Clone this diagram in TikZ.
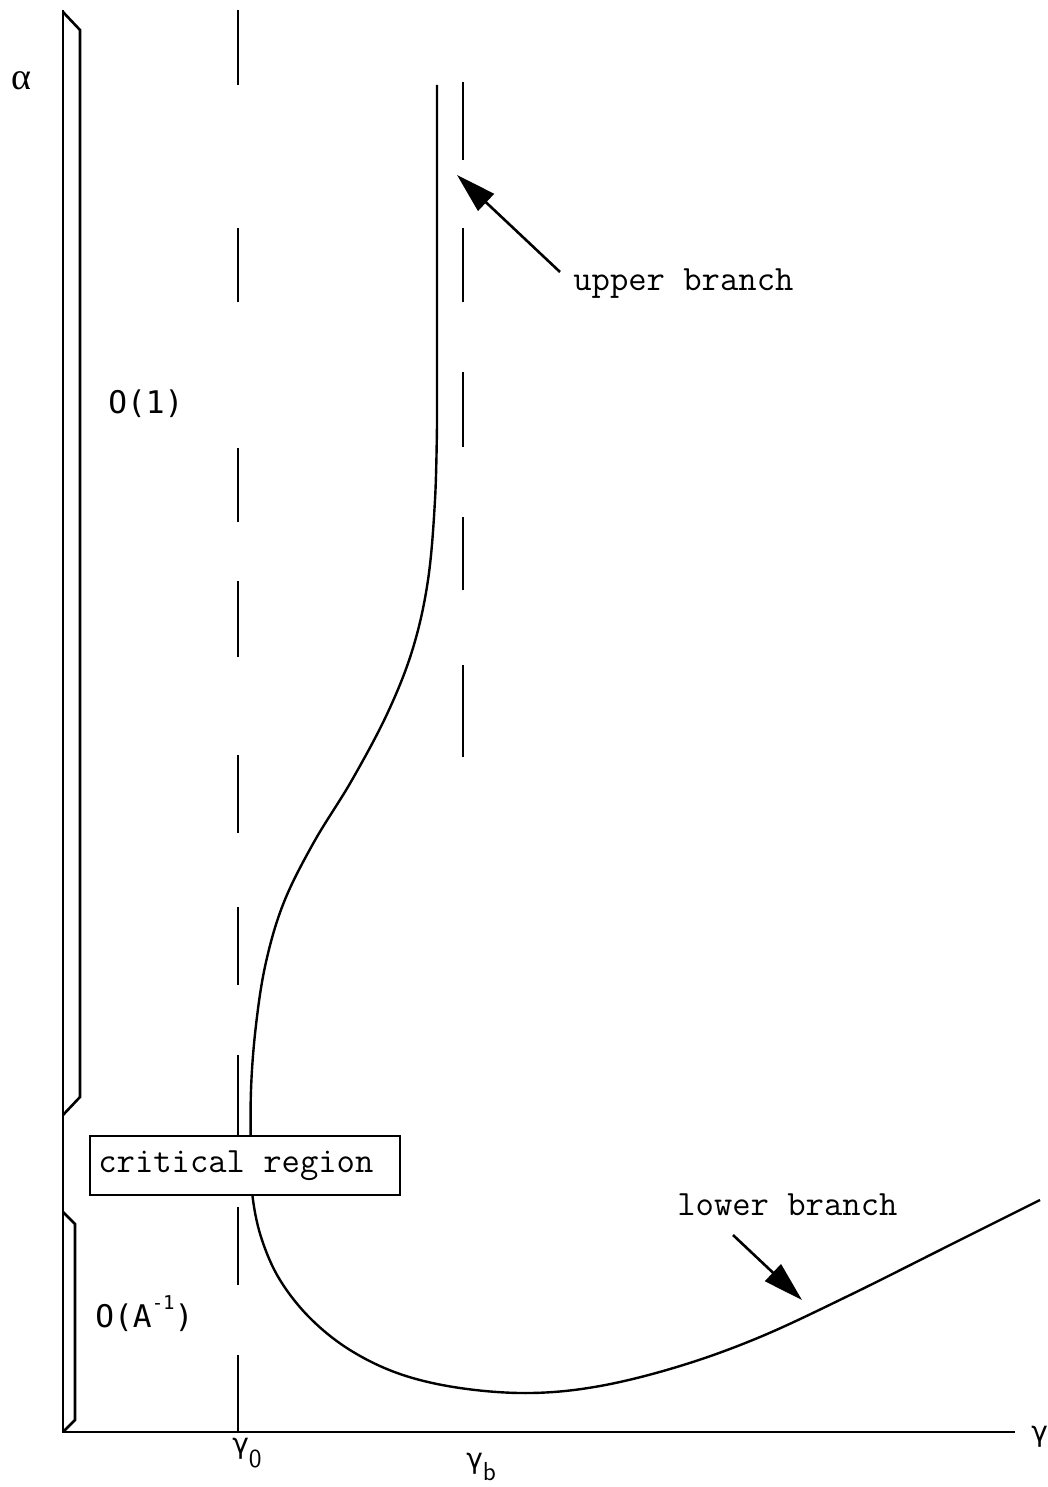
\documentclass[tikz,border=0pt]{standalone}
\usepackage{fontspec}
\newfontfamily\sansmono{DejaVu Sans Mono}
\newfontfamily\grk{DejaVu Sans}
\newfontfamily\grkserif{Liberation Serif}
\usetikzlibrary{arrows.meta}
\begin{document}
\begin{tikzpicture}[x=0.5pt,y=-0.5pt,
  axisline/.style={line width=1.3pt,line join=miter},
  guide/.style={line width=1.3pt},
  branch/.style={line width=1.2pt,line join=round},
  pointer/.style={line width=1.3pt,-{Triangle[length=20pt,width=11.5pt]}},
  ttlbl/.style={font=\ttfamily\fontsize{17.8}{20}\selectfont,inner sep=0pt},
  orderlbl/.style={font=\sansmono\fontsize{15.6}{18}\selectfont,inner sep=0pt},
  greeklbl/.style={font=\grk\fontsize{14}{16}\selectfont,inner sep=0pt},
  critbox/.style={draw,fill=white,line width=1.3pt,inner sep=0pt,
    minimum width=155pt,minimum height=29.5pt}]
\useasboundingbox (0,0) rectangle (1048,1487);

% axes and order-of-magnitude brackets
\coordinate (top) at (63,10);
\coordinate (origin) at (63,1432);
\coordinate (xend) at (1015,1432);
\draw[axisline] (top) -- (origin) -- (xend);
\draw[axisline] (63,12) -- (80,30) -- (80,1097) -- (63,1115);
\draw[axisline] (63,1212) -- (75,1224) -- (75,1420) -- (63,1432);

% dashed verticals at gamma_0 and gamma_b
\foreach \a/\b in {10/85,228/302,448/522,581/657,755/833,907/985,1055/1140,1207/1285,1355/1432}
  \draw[guide] (238,\a) -- (238,\b);
\foreach \a/\b in {82/160,228/302,372/447,517/590,665/757}
  \draw[guide] (463,\a) -- (463,\b);

% the solution branch
\draw[branch] (437,85) -- plot[smooth,tension=0.6] coordinates {
  (437,424) (435,500) (428,580) (413,648) (388,712) (352,780)
  (314,842) (284,902) (266,962) (256,1025) (251,1090) (251,1160)
  (253,1200) (262,1240) (280,1280) (310,1318) (350,1350) (400,1374)
  (460,1388) (530,1393) (600,1386) (680,1366) (760,1337) (850,1295)
  (950,1245) (1040,1200)};

% labels
\node[critbox] (crit) at (245,1165.5) {};
\node[ttlbl,anchor=base west] (critlbl) at (98,1172) {critical region};
\node[ttlbl,anchor=base west] (upper) at (573,290) {upper branch};
\node[ttlbl,anchor=base west] (lower) at (677,1215) {lower branch};
\node[orderlbl,anchor=base west] (ord1) at (108,413) {O(1)};
\node[orderlbl,anchor=base west] (ordA) at (95,1327)
  {O(A\raisebox{0.55em}{\fontsize{9.5}{10}\selectfont -1})};

\node[font=\grkserif\fontsize{19}{20}\selectfont,inner sep=0pt,anchor=base west] (alpha) at (11,90) {α};
\node[greeklbl,anchor=base west] (gam) at (1031,1441) {γ};
\node[greeklbl,anchor=base west] (gam0) at (232,1453)
  {γ\raisebox{-7pt}{\sffamily\fontsize{13}{13}\selectfont 0}};
\node[greeklbl,anchor=base west] (gamb) at (466,1468)
  {γ\raisebox{-6pt}{\sffamily\fontsize{13}{13}\selectfont b}};

% pointers to the two branches
\coordinate (uptail) at (560,272);
\coordinate (uptip) at (457,175);
\coordinate (lowtail) at (733,1235);
\coordinate (lowtip) at (802,1300);
\draw[pointer] (uptail) -- (uptip);
\draw[pointer] (lowtail) -- (lowtip);
\end{tikzpicture}
\end{document}
